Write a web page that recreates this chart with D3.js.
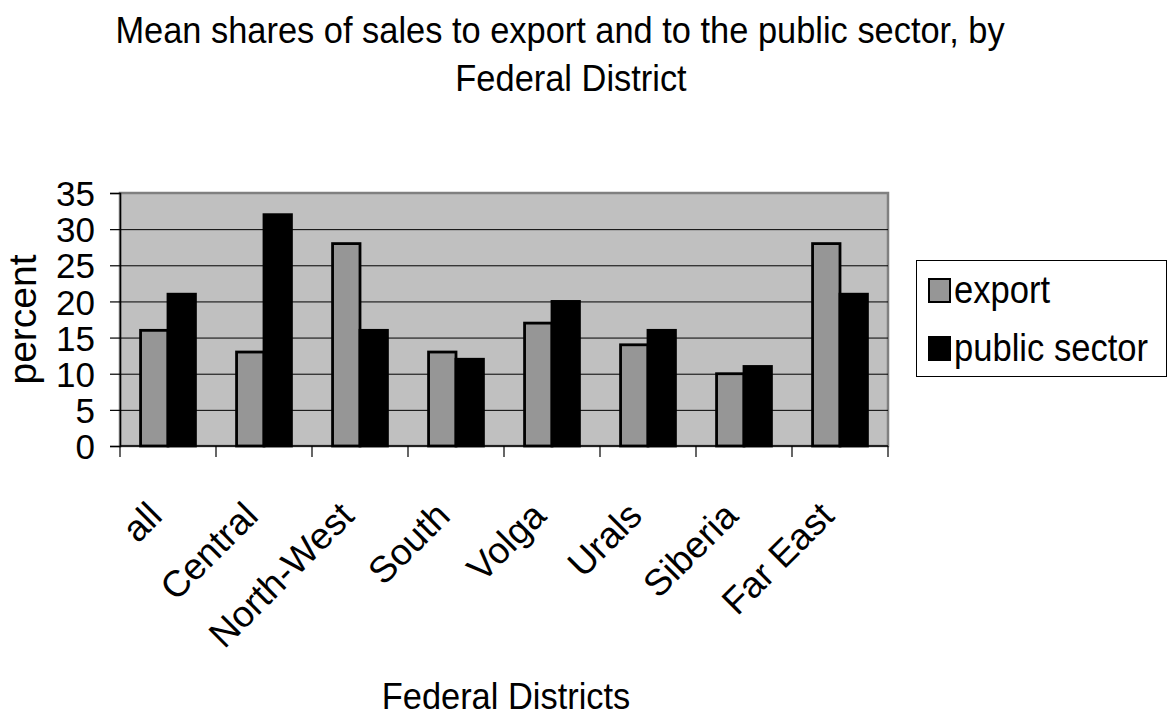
<!DOCTYPE html>
<html>
<head>
<meta charset="utf-8">
<script src="https://cdn.jsdelivr.net/npm/d3@7"></script>
<style>
  html, body { margin: 0; padding: 0; background: #ffffff; }
  svg { display: block; }
  text { font-family: "Liberation Sans", Arial, "DejaVu Sans", sans-serif; fill: #000; }
</style>
</head>
<body>
<svg id="chart" width="1170" height="719"></svg>
<script>
// Mean shares of sales (percent) by Federal District
const districts = ["all", "Central", "North-West", "South", "Volga", "Urals", "Siberia", "Far East"];
const seriesNames = ["export", "public sector"];
const exportShare = [16, 13, 28, 13, 17, 14, 10, 28];
const publicShare = [21, 32, 16, 12, 20, 16, 11, 21];
const yTicks = [0, 5, 10, 15, 20, 25, 30, 35];
const titleLines = ["Mean shares of sales to export and to the public sector, by", "Federal District"];
const xAxisTitle = "Federal Districts";
const yAxisTitle = "percent";

const seriesValues = [exportShare, publicShare];
const seriesFill = ["#969696", "#000000"];

const svg = d3.select("#chart");
const FONT = 37;     // text size
const SX = 0.93;     // slightly narrowed glyphs for horizontal text

// plot area
const plot = { left: 120, right: 888, top: 193, bottom: 446 };

const x0 = d3.scaleBand().domain(districts).range([plot.left, plot.right]).paddingInner(0).paddingOuter(0);
const x1 = d3.scaleBand().domain(seriesNames).range([0, x0.bandwidth()]).paddingInner(0).paddingOuter(0.75);
const y = d3.scaleLinear().domain([0, 35]).range([plot.bottom, plot.top]);

// helper: text placed at (x, y), optionally rotated, with narrowed glyphs
function label(sel, x, yPos, rot, size, sx) {
  const s = sx === undefined ? SX : sx;
  return sel.attr("transform", `translate(${x},${yPos})` + (rot ? ` rotate(${rot})` : "") + ` scale(${s},1)`)
    .attr("font-size", size || FONT);
}

// title
const titleX = [560, 571];
const titleY = [43, 91];
svg.append("g").selectAll("text").data(titleLines).join("text")
  .each(function (d, i) { label(d3.select(this), titleX[i], titleY[i]); })
  .attr("text-anchor", "middle")
  .text(d => d);

// plot background with grey frame
svg.append("rect")
  .attr("x", plot.left).attr("y", plot.top)
  .attr("width", plot.right - plot.left).attr("height", plot.bottom - plot.top)
  .attr("fill", "#c0c0c0")
  .attr("stroke", "#808080").attr("stroke-width", 2.5);

// horizontal gridlines
svg.append("g").selectAll("line").data(yTicks.filter(t => t > 0 && t < 35)).join("line")
  .attr("x1", plot.left).attr("x2", plot.right)
  .attr("y1", d => y(d) + 0.5).attr("y2", d => y(d) + 0.5)
  .attr("stroke", "#000").attr("stroke-width", 1);

// bars
const groups = svg.append("g").selectAll("g").data(districts).join("g")
  .attr("transform", d => `translate(${x0(d)},0)`);
groups.selectAll("rect")
  .data((d, i) => seriesNames.map((s, k) => ({ s, k, v: seriesValues[k][i] })))
  .join("rect")
  .attr("x", d => x1(d.s))
  .attr("y", d => y(d.v))
  .attr("width", x1.bandwidth())
  .attr("height", d => y(0) - y(d.v))
  .attr("fill", d => seriesFill[d.k])
  .attr("stroke", "#000")
  .attr("stroke-width", 2.8);

// y axis
const yAxis = d3.axisLeft(y).tickValues(yTicks).tickSize(10).tickPadding(15).tickFormat(d3.format("d"));
const gy = svg.append("g").attr("transform", `translate(${plot.left},0)`).call(yAxis);
gy.select(".domain").attr("stroke", "#000").attr("stroke-width", 1.5);
gy.selectAll(".tick line").attr("stroke", "#000").attr("stroke-width", 1.2);
gy.selectAll(".tick text")
  .attr("font-size", 35)
  .attr("dy", "0.36em")
  .attr("font-family", "'Liberation Sans', Arial, sans-serif")
  .attr("fill", "#000");

// x axis: baseline, boundary ticks, rotated labels
svg.append("line")
  .attr("x1", plot.left).attr("x2", plot.right)
  .attr("y1", plot.bottom).attr("y2", plot.bottom)
  .attr("stroke", "#000").attr("stroke-width", 1.5);
const boundaries = districts.map(d => x0(d)).concat([plot.right]);
svg.append("g").selectAll("line").data(boundaries).join("line")
  .attr("x1", d => d).attr("x2", d => d)
  .attr("y1", plot.bottom).attr("y2", plot.bottom + 11)
  .attr("stroke", "#000").attr("stroke-width", 1.2);
svg.append("g").selectAll("text").data(districts).join("text")
  .each(function (d) { label(d3.select(this), x0(d) + x0.bandwidth() / 2 - 4, 518, -45, FONT, 1); })
  .attr("text-anchor", "end")
  .text(d => d);

// axis titles
label(svg.append("text"), (plot.left + plot.right) / 2 + 2, 709)
  .attr("text-anchor", "middle")
  .text(xAxisTitle);
label(svg.append("text"), 36, (plot.top + plot.bottom) / 2, -90, 39, 1)
  .attr("text-anchor", "middle")
  .text(yAxisTitle);

// legend
const legend = svg.append("g");
legend.append("rect")
  .attr("x", 916.5).attr("y", 260.5).attr("width", 250).attr("height", 116)
  .attr("fill", "#fff").attr("stroke", "#000").attr("stroke-width", 1);
const legendRowY = [303, 361];
const items = legend.selectAll("g.item").data(seriesNames).join("g").attr("class", "item");
items.append("rect")
  .attr("x", 929).attr("y", (d, i) => legendRowY[i] - 24)
  .attr("width", 21).attr("height", 23)
  .attr("fill", (d, i) => seriesFill[i])
  .attr("stroke", "#000").attr("stroke-width", 2);
items.append("text")
  .each(function (d, i) { label(d3.select(this), 954, legendRowY[i], 0, 38, 0.91); })
  .text(d => d);
</script>
</body>
</html>
